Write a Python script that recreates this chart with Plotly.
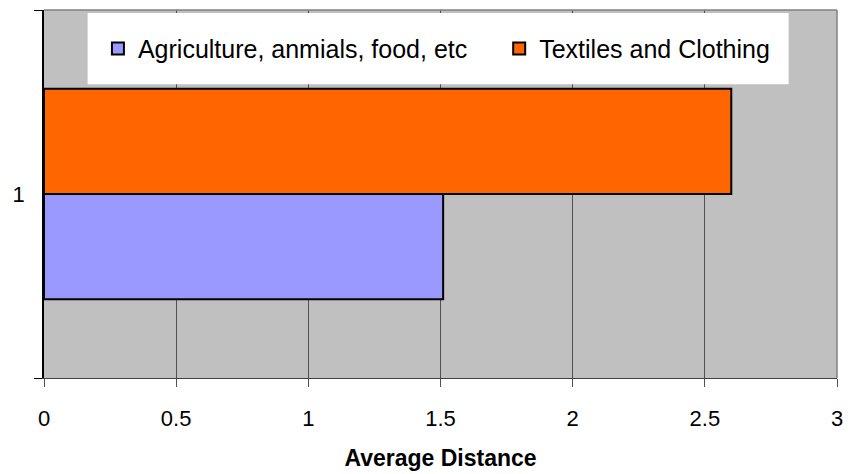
import plotly.graph_objects as go

categories = ["1"]
series_names = ["Agriculture, anmials, food, etc", "Textiles and Clothing"]
agriculture = [1.51]
textiles = [2.6]
x_ticks = [0, 0.5, 1, 1.5, 2, 2.5, 3]
x_tick_labels = ["0", "0.5", "1", "1.5", "2", "2.5", "3"]

FONT = "Liberation Sans, Arial, sans-serif"

fig = go.Figure()
fig.add_trace(go.Bar(
    y=categories, x=agriculture, name=series_names[0], orientation="h",
    marker=dict(color="#9999FF", line=dict(color="black", width=2)),
    legend="legend",
))
fig.add_trace(go.Bar(
    y=categories, x=textiles, name=series_names[1], orientation="h",
    marker=dict(color="#FF6600", line=dict(color="black", width=2)),
    legend="legend2",
))

# white legend panel
fig.add_shape(type="rect", xref="paper", yref="paper",
              x0=0.055, x1=0.939, y0=0.798, y1=0.992,
              fillcolor="white", line=dict(width=0), layer="above")

legend_style = dict(orientation="h", y=0.895, xanchor="left", yanchor="middle",
                    bgcolor="rgba(0,0,0,0)", font=dict(size=25, family=FONT),
                    itemwidth=30)

fig.update_layout(
    width=850, height=474,
    margin=dict(l=44, r=7, t=10, b=95),
    paper_bgcolor="white", plot_bgcolor="#C0C0C0",
    barmode="group", bargap=0.428, bargroupgap=0,
    font=dict(family=FONT, color="black"),
    showlegend=True,
    legend=dict(x=0.068, **legend_style),
    legend2=dict(x=0.574, **legend_style),
    xaxis=dict(range=[0, 3], tickvals=x_ticks, ticktext=x_tick_labels,
               showgrid=True, gridcolor="#505050", gridwidth=1,
               ticks="outside", ticklen=8, tickcolor="#505050",
               tickfont=dict(size=22, family=FONT), ticklabelstandoff=13,
               showline=True, linecolor="#404040", linewidth=1,
               zeroline=False, mirror=False,
               title=dict(text="<b>Average Distance</b>", font=dict(size=23, family=FONT), standoff=19)),
    yaxis=dict(type="category", range=[-0.5, 0.5], tickson="boundaries",
               ticks="outside", ticklen=8, tickcolor="black",
               tickfont=dict(size=22, family=FONT), ticklabelstandoff=13,
               showgrid=False, showline=True, linecolor="black", linewidth=1.5,
               zeroline=False),
)

# grey frame on top and right of plot area
fig.add_shape(type="line", xref="paper", yref="paper", x0=0, x1=1, y0=1, y1=1,
              line=dict(color="#808080", width=1.5))
fig.add_shape(type="line", xref="paper", yref="paper", x0=1, x1=1, y0=0, y1=1,
              line=dict(color="#808080", width=1.5))

fig.write_html("out.html")
